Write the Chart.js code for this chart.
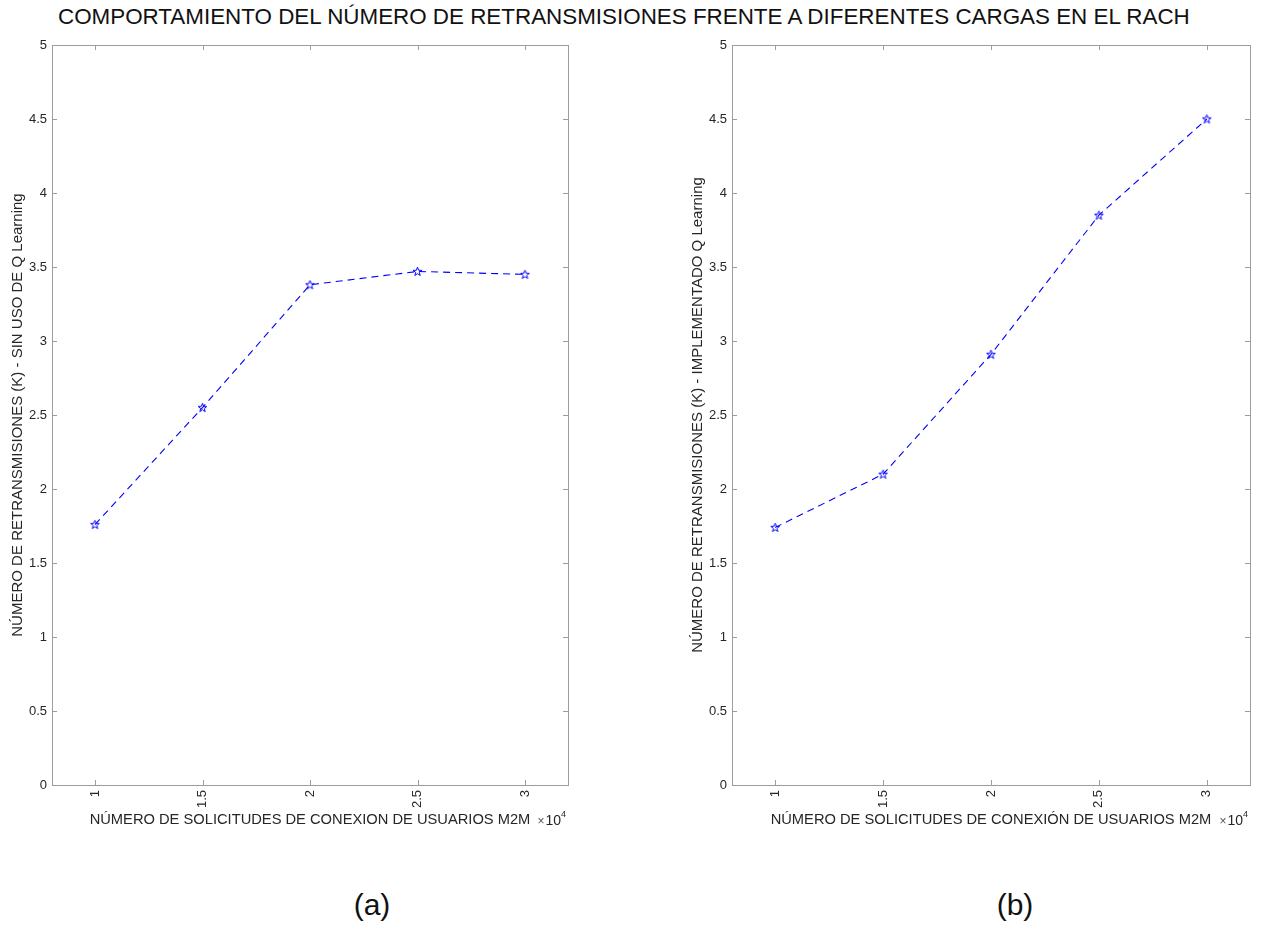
<!DOCTYPE html>
<html>
<head>
<meta charset="utf-8">
<script src="https://cdn.jsdelivr.net/npm/chart.js@4.4.0/dist/chart.umd.min.js"></script>
<style>
    body { margin: 0; background: #fff; width: 1262px; height: 951px; overflow: hidden; position: relative;
           font-family: "Liberation Sans", Arial, sans-serif; }
    #title { position: absolute; left: 58px; top: 4px; font-size: 22.4px; color: #111; white-space: nowrap; }
    .cap { position: absolute; top: 888px; font-size: 30px; color: #111; width: 80px; text-align: center; }
    #chartA { position: absolute; left: 0; top: 0; }
    #chartB { position: absolute; left: 680px; top: 0; }
</style>
</head>
<body>
<div id="title">COMPORTAMIENTO DEL NÚMERO DE RETRANSMISIONES FRENTE A DIFERENTES CARGAS EN EL RACH</div>
<canvas id="chartA" width="640" height="840"></canvas>
<canvas id="chartB" width="582" height="840"></canvas>
<div class="cap" style="left:332px">(a)</div>
<div class="cap" style="left:975px">(b)</div>
<script>
// solicitudes de conexion (usuarios M2M)
const solicitudes = [10000, 15000, 20000, 25000, 30000];
const xTickLabels = ['1', '1.5', '2', '2.5', '3'];
// numero medio de retransmisiones K
const sinQLearning = [1.76, 2.55, 3.38, 3.47, 3.45];
const conQLearning = [1.74, 2.10, 2.91, 3.85, 4.50];

const textColor = '#262626';
const boxColor = '#9c9c9c';
const fontFamily = '"Liberation Sans", Arial, sans-serif';

// marcador tipo pentagrama como en matlab ('p')
function pentagram(color) {
    const c = document.createElement('canvas');
    c.width = 11; c.height = 11;
    const g = c.getContext('2d');
    g.strokeStyle = color;
    g.lineWidth = 1;
    g.beginPath();
    for (let i = 0; i < 10; i++) {
        const r = i % 2 === 0 ? 4.6 : 1.9;
        const a = -Math.PI / 2 + i * Math.PI / 5;
        const px = 5.5 + r * Math.cos(a), py = 5.8 + r * Math.sin(a);
        if (i === 0) g.moveTo(px, py); else g.lineTo(px, py);
    }
    g.closePath();
    g.stroke();
    return c;
}
const marker = pentagram('#0000ff');

// caja con marcas interiores y el factor x10^4
const boxPlugin = {
    id: 'matlabBox',
    afterDraw(chart) {
        const { ctx, chartArea: a, scales: { x, y } } = chart;
        ctx.save();
        ctx.strokeStyle = boxColor;
        ctx.lineWidth = 1;
        ctx.strokeRect(a.left + 0.5, a.top + 0.5, a.right - a.left, a.bottom - a.top);
        ctx.beginPath();
        x.ticks.forEach(t => {
            const px = Math.round(x.getPixelForValue(t.value)) + 0.5;
            ctx.moveTo(px, a.bottom); ctx.lineTo(px, a.bottom - 5);
            ctx.moveTo(px, a.top); ctx.lineTo(px, a.top + 5);
        });
        y.ticks.forEach(t => {
            const py = Math.round(y.getPixelForValue(t.value)) + 0.5;
            ctx.moveTo(a.left, py); ctx.lineTo(a.left + 5, py);
            ctx.moveTo(a.right, py); ctx.lineTo(a.right - 5, py);
        });
        ctx.stroke();

        ctx.fillStyle = textColor;
        ctx.textBaseline = 'alphabetic';
        ctx.textAlign = 'right';
        const right = a.right - 2;
        ctx.font = '9px ' + fontFamily;
        ctx.fillText('4', right, 817);
        let off = ctx.measureText('4').width;
        ctx.font = '14px ' + fontFamily;
        ctx.fillText('10', right - off, 825);
        off += ctx.measureText('10').width;
        ctx.font = '12px ' + fontFamily;
        ctx.fillStyle = '#555';
        ctx.fillText('×', right - off - 1, 825);
        ctx.restore();
    }
};

function makeChart(id, values, yTitle, xTitle, padRight) {
    return new Chart(document.getElementById(id), {
        type: 'line',
        data: {
            datasets: [{
                data: solicitudes.map((s, i) => ({ x: s, y: values[i] })),
                borderColor: '#0000ff',
                borderWidth: 1.1,
                borderDash: [7, 5],
                pointStyle: marker,
                pointRadius: 5,
                fill: false,
                tension: 0
            }]
        },
        options: {
            responsive: false,
            animation: false,
            layout: { padding: { left: 0, top: 45, right: padRight, bottom: 10 } },
            plugins: { legend: { display: false }, tooltip: { enabled: false } },
            scales: {
                x: {
                    type: 'linear',
                    min: 8000,
                    max: 32000,
                    afterBuildTicks(scale) {
                        scale.ticks = solicitudes.map(v => ({ value: v }));
                    },
                    afterFit(scale) { scale.height = 45; },
                    grid: { display: false, drawTicks: false },
                    border: { display: false },
                    ticks: {
                        autoSkip: false,
                        minRotation: 90,
                        maxRotation: 90,
                        padding: 5,
                        color: textColor,
                        font: { family: fontFamily, size: 13 },
                        callback: (v, i) => xTickLabels[i]
                    },
                    title: {
                        display: true,
                        text: xTitle,
                        color: textColor,
                        font: { family: fontFamily, size: 14.7 },
                        padding: { top: 0, bottom: 1 }
                    }
                },
                y: {
                    min: 0,
                    max: 5,
                    afterFit(scale) { scale.width = 52; },
                    grid: { display: false, drawTicks: false },
                    border: { display: false },
                    ticks: {
                        stepSize: 0.5,
                        padding: 5,
                        color: textColor,
                        font: { family: fontFamily, size: 13 },
                        callback: v => String(Number(v))
                    },
                    title: {
                        display: true,
                        text: yTitle,
                        color: textColor,
                        font: { family: fontFamily, size: 15 },
                        padding: { top: 9, bottom: 0 }
                    }
                }
            }
        },
        plugins: [boxPlugin]
    });
}

makeChart('chartA', sinQLearning,
    'NÚMERO DE RETRANSMISIONES (K) - SIN USO DE Q Learning',
    'NÚMERO DE SOLICITUDES DE CONEXION DE USUARIOS M2M', 72);
makeChart('chartB', conQLearning,
    'NÚMERO DE RETRANSMISIONES (K) - IMPLEMENTADO Q Learning',
    'NÚMERO DE SOLICITUDES DE CONEXIÓN DE USUARIOS M2M', 12);
</script>
</body>
</html>
